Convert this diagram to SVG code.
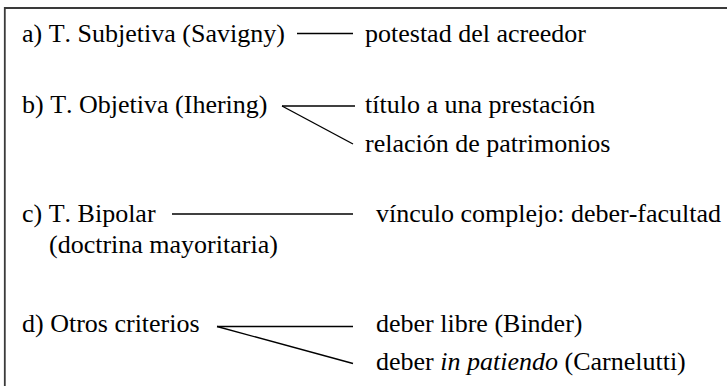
<svg xmlns="http://www.w3.org/2000/svg" width="727" height="386" viewBox="0 0 727 386">
  <style>
    text { font-family: "Liberation Serif", "Times New Roman", serif; font-size: 26px; fill: #000; font-kerning: none; }
    .it { font-style: italic; }
    .conn line { stroke: #000; stroke-width: 1.4; fill: none; }
    .frame { stroke: #3a3a3a; stroke-width: 1.8; fill: none; }
  </style>
  <rect width="727" height="386" fill="#ffffff"/>
  <path class="frame" d="M4.8,400 V8 H740"/>

  <g id="theory-a"><text x="22" y="41.5">a) T. Subjetiva (Savigny)</text></g>
  <g id="potestad"><text x="365" y="41.5">potestad del acreedor</text></g>

  <g id="theory-b"><text x="22" y="113">b) T. Objetiva (Ihering)</text></g>
  <g id="titulo"><text x="365" y="113">título a una prestación</text></g>
  <g id="relacion"><text x="365" y="151.5">relación de patrimonios</text></g>

  <g id="theory-c">
    <text x="22" y="221.5">c) T. Bipolar</text>
    <text x="49" y="253">(doctrina mayoritaria)</text>
  </g>
  <g id="vinculo"><text x="376" y="221.5">vínculo complejo: deber-facultad</text></g>

  <g id="theory-d"><text x="22" y="332">d) Otros criterios</text></g>
  <g id="deber-libre"><text x="376" y="331.5">deber libre (Binder)</text></g>
  <g id="deber-patiendo"><text x="376" y="369.7">deber <tspan class="it">in patiendo</tspan> (Carnelutti)</text></g>

  <g id="connectors" class="conn">
    <line x1="297" y1="33.5" x2="353" y2="33.5"/>
    <line x1="282" y1="106" x2="355" y2="106"/>
    <line x1="282" y1="106" x2="353" y2="144"/>
    <line x1="172" y1="214" x2="353" y2="214"/>
    <line x1="217" y1="326.5" x2="353" y2="326.5"/>
    <line x1="217" y1="326.5" x2="353" y2="363.5"/>
  </g>
</svg>
